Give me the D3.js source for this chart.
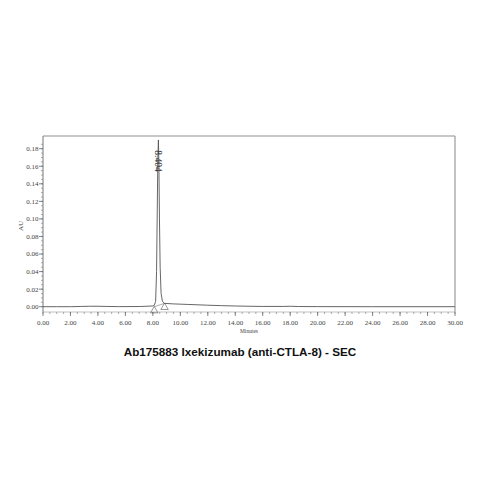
<!DOCTYPE html>
<html>
<head>
<meta charset="utf-8">
<script src="https://cdn.jsdelivr.net/npm/d3@7"></script>
<style>
  body { margin: 0; background: #fff; }
  svg { display: block; }
</style>
</head>
<body>
<div id="chart"></div>
<script>
// Chromatogram trace (minutes, AU)
const times = [0, 1, 2, 2.8, 3.4, 4, 4.6, 5.5, 7, 8.0, 8.1, 8.2, 8.27, 8.32, 8.36, 8.404, 8.44, 8.48, 8.53, 8.6, 8.7, 8.85, 9.5, 10.5, 12, 13, 14, 15, 16, 17.5, 18, 18.6, 20, 24, 30];
const values = [0, 0, 0, 0.0003, 0.0005, 0.0005, 0.0003, 0.0001, 0.0002, 0.0008, 0.0015, 0.006, 0.04, 0.11, 0.165, 0.19, 0.16, 0.1, 0.045, 0.015, 0.006, 0.0038, 0.0032, 0.0026, 0.0017, 0.0012, 0.0008, 0.0005, 0.0003, 0.0003, 0.0005, 0.0002, 0.0001, 0, 0];

// integration markers (start / end of peak)
const markerTimes = [8.1, 8.85];
const markerValues = [0.0, 0.0038];

const peakLabel = "8.404";
const peakTime = 8.404;

const xTicks = d3.range(0, 30.01, 2);
const yTicks = d3.range(0, 0.181, 0.02);

const width = 479, height = 479;
const margin = { left: 43, right: 24, top: 136, bottom: 167 };

const svg = d3.select('#chart')
    .append('svg')
    .attr('width', width)
    .attr('height', height);

const x = d3.scaleLinear()
    .domain([0, 30])
    .range([margin.left, width - margin.right]);

const y = d3.scaleLinear()
    .domain([0, 0.18])
    .range([306.7, 148.7]);

const plotBottom = 312;
const serif = '"Liberation Serif", "DejaVu Serif", serif';

// frame (top and right)
svg.append('line')
    .attr('x1', margin.left).attr('x2', x(30))
    .attr('y1', margin.top).attr('y2', margin.top)
    .style('stroke', '#b5b5b5').style('stroke-width', 1.6);
svg.append('line')
    .attr('x1', x(30)).attr('x2', x(30))
    .attr('y1', margin.top).attr('y2', plotBottom)
    .style('stroke', '#9a9a9a').style('stroke-width', 1.2);

// y axis
const yAxis = svg.append('g')
    .attr('transform', `translate(${margin.left},0)`);
yAxis.append('line')
    .attr('x1', 0).attr('x2', 0)
    .attr('y1', margin.top).attr('y2', plotBottom)
    .style('stroke', '#777').style('stroke-width', 1);
const yMinor = d3.range(0, 0.1851, 0.005);
yAxis.selectAll('line.minor')
    .data(yMinor)
    .join('line')
    .attr('class', 'minor')
    .attr('x1', -2).attr('x2', 0)
    .attr('y1', d => y(d)).attr('y2', d => y(d))
    .style('stroke', '#888').style('stroke-width', 0.7);
yAxis.selectAll('line.major')
    .data(yTicks)
    .join('line')
    .attr('class', 'major')
    .attr('x1', -4).attr('x2', 0)
    .attr('y1', d => y(d)).attr('y2', d => y(d))
    .style('stroke', '#666').style('stroke-width', 0.8);
yAxis.selectAll('text')
    .data(yTicks)
    .join('text')
    .attr('x', -4.5)
    .attr('y', d => y(d) + 2.4)
    .text(d => d3.format('.2f')(d))
    .style('font-family', serif)
    .style('font-size', '7px')
    .style('fill', '#444')
    .style('text-anchor', 'end');

svg.append('text')
    .attr('transform', 'translate(23,226) rotate(-90)')
    .text('AU')
    .style('font-family', serif)
    .style('font-size', '7px')
    .style('fill', '#444')
    .style('text-anchor', 'middle');

// x axis
const xAxis = svg.append('g');
xAxis.append('line')
    .attr('x1', margin.left).attr('x2', x(30))
    .attr('y1', plotBottom).attr('y2', plotBottom)
    .style('stroke', '#999').style('stroke-width', 0.6);
const xMinor = d3.range(0, 30.01, 0.5);
xAxis.selectAll('line.minor')
    .data(xMinor)
    .join('line')
    .attr('class', 'minor')
    .attr('x1', d => x(d)).attr('x2', d => x(d))
    .attr('y1', plotBottom).attr('y2', plotBottom + 2)
    .style('stroke', '#888').style('stroke-width', 0.7);
xAxis.selectAll('line.major')
    .data(xTicks)
    .join('line')
    .attr('class', 'major')
    .attr('x1', d => x(d)).attr('x2', d => x(d))
    .attr('y1', plotBottom).attr('y2', plotBottom + 4)
    .style('stroke', '#666').style('stroke-width', 0.8);
xAxis.selectAll('text')
    .data(xTicks)
    .join('text')
    .attr('x', d => x(d))
    .attr('y', 324.5)
    .text(d => d3.format('.2f')(d))
    .style('font-family', serif)
    .style('font-size', '7px')
    .style('fill', '#444')
    .style('text-anchor', 'middle');

svg.append('text')
    .attr('x', x(15))
    .attr('y', 333)
    .text('Minutes')
    .style('font-family', serif)
    .style('font-size', '5.5px')
    .style('fill', '#444')
    .style('text-anchor', 'middle');

// trace
const line = d3.line()
    .x((d, i) => x(times[i]))
    .y(d => y(d));

svg.append('path')
    .datum(values)
    .attr('d', line)
    .style('fill', 'none')
    .style('stroke', '#555')
    .style('stroke-width', 0.9);

// integration baseline
svg.append('line')
    .attr('x1', x(markerTimes[0])).attr('y1', y(markerValues[0]))
    .attr('x2', x(markerTimes[1])).attr('y2', y(markerValues[1]))
    .style('stroke', '#777').style('stroke-width', 0.6);

// start/end triangles
const tri = d3.symbol().type(d3.symbolTriangle).size(24);
svg.selectAll('path.marker')
    .data(markerTimes)
    .join('path')
    .attr('class', 'marker')
    .attr('d', tri)
    .attr('transform', (d, i) => `translate(${x(d)},${y(markerValues[i]) + 4})`)
    .style('fill', 'none')
    .style('stroke', '#555')
    .style('stroke-width', 0.6);

// peak label
svg.append('text')
    .attr('transform', `translate(${x(peakTime)},${y(0.166)}) rotate(90)`)
    .text(peakLabel)
    .style('font-family', serif)
    .style('font-size', '9.5px')
    .style('fill', '#333')
    .style('text-anchor', 'middle')
    .attr('dy', '0.33em');

// title
svg.append('text')
    .attr('x', 240)
    .attr('y', 356)
    .text('Ab175883 Ixekizumab (anti-CTLA-8) - SEC')
    .style('font-family', '"Liberation Sans", Arial, sans-serif')
    .style('font-weight', 'bold')
    .style('font-size', '11.7px')
    .style('fill', '#111')
    .style('text-anchor', 'middle');
</script>
</body>
</html>
